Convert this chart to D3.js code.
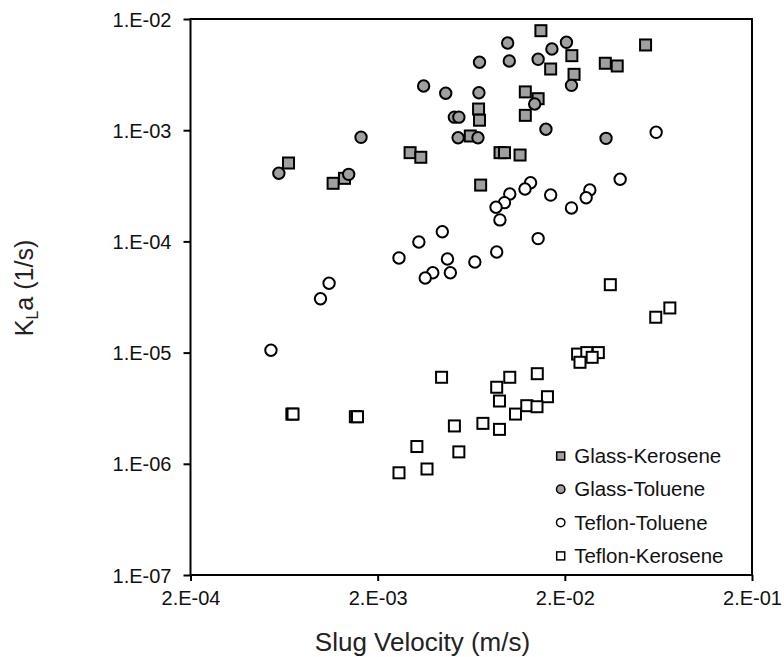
<!DOCTYPE html>
<html>
<head>
<meta charset="utf-8">
<script src="https://cdn.jsdelivr.net/npm/d3@7"></script>
<style>
  body { margin: 0; background: #fff; }
  svg { font-family: "Liberation Sans", Arial, sans-serif; }
</style>
</head>
<body>
<div id="chart"></div>
<script>
// series: [slug velocity (m/s), KLa (1/s)]
var glassKerosene = [
  [0.0149, 7.85e-3], [0.054, 5.84e-3], [0.0218, 4.68e-3], [0.0329, 4.0e-3],
  [0.0381, 3.78e-3], [0.0168, 3.55e-3], [0.0224, 3.18e-3], [0.0123, 2.21e-3],
  [0.0144, 1.92e-3], [0.00692, 1.55e-3], [0.0070, 1.23e-3], [0.0123, 1.36e-3],
  [0.00625, 8.87e-4], [0.00298, 6.28e-4], [0.0034, 5.71e-4], [0.00901, 6.28e-4],
  [0.00952, 6.28e-4], [0.01153, 5.98e-4], [0.000668, 5.07e-4], [0.001156, 3.33e-4],
  [0.00133, 3.69e-4], [0.0071, 3.21e-4]
];
var glassToluene = [
  [0.0099, 6.08e-3], [0.0204, 6.17e-3], [0.01706, 5.37e-3], [0.0070, 4.08e-3],
  [0.0101, 4.19e-3], [0.0144, 4.34e-3], [0.0217, 2.53e-3], [0.00352, 2.50e-3],
  [0.00462, 2.15e-3], [0.00695, 2.17e-3], [0.0138, 1.72e-3], [0.00514, 1.31e-3],
  [0.00543, 1.31e-3], [0.01585, 1.02e-3], [0.00163, 8.63e-4], [0.00538, 8.56e-4],
  [0.00687, 8.56e-4], [0.0332, 8.45e-4], [0.000593, 4.1e-4], [0.0014, 4.01e-4]
];
var teflonToluene = [
  [0.0615, 9.57e-4], [0.0395, 3.62e-4], [0.01312, 3.37e-4], [0.01225, 2.96e-4],
  [0.0272, 2.90e-4], [0.026, 2.47e-4], [0.01016, 2.67e-4], [0.00952, 2.23e-4],
  [0.00858, 2.03e-4], [0.0168, 2.61e-4], [0.0217, 2.0e-4], [0.0090, 1.56e-4],
  [0.00443, 1.22e-4], [0.00332, 9.88e-5], [0.0026, 7.1e-5], [0.00472, 6.95e-5],
  [0.00661, 6.53e-5], [0.00865, 8.03e-5], [0.0144, 1.06e-4], [0.00394, 5.23e-5],
  [0.00359, 4.69e-5], [0.00489, 5.23e-5], [0.0011, 4.2e-5], [0.00099, 3.05e-5],
  [0.000538, 1.05e-5]
];
var teflonKerosene = [
  [0.035, 4.08e-5], [0.0728, 2.52e-5], [0.0612, 2.08e-5], [0.0234, 9.7e-6],
  [0.0262, 1.0e-5], [0.0302, 1.0e-5], [0.028, 9.07e-6], [0.0241, 8.18e-6],
  [0.00439, 6.0e-6], [0.01016, 6.0e-6], [0.01425, 6.46e-6], [0.00865, 4.88e-6],
  [0.01615, 4.01e-6], [0.00895, 3.67e-6], [0.01252, 3.33e-6], [0.0142, 3.26e-6],
  [0.0109, 2.8e-6], [0.000696, 2.8e-6], [0.000706, 2.8e-6], [0.00152, 2.65e-6],
  [0.00156, 2.65e-6], [0.00514, 2.19e-6], [0.0073, 2.31e-6], [0.00895, 2.04e-6],
  [0.00324, 1.43e-6], [0.00543, 1.28e-6], [0.0026, 8.3e-7], [0.00367, 8.98e-7]
];
var seriesNames = ["Glass-Kerosene", "Glass-Toluene", "Teflon-Toluene", "Teflon-Kerosene"];
var xTicks = [2e-4, 2e-3, 2e-2, 2e-1];
var yTicks = [1e-7, 1e-6, 1e-5, 1e-4, 1e-3, 1e-2];

var series = [
  {name: seriesNames[0], data: glassKerosene, shape: "square", fill: "#a0a0a0"},
  {name: seriesNames[1], data: glassToluene, shape: "circle", fill: "#a0a0a0"},
  {name: seriesNames[2], data: teflonToluene, shape: "circle", fill: "#fff"},
  {name: seriesNames[3], data: teflonKerosene, shape: "square", fill: "#fff"}
];

var W = 784, H = 657;
var margin = {top: 19, right: 32, bottom: 82, left: 190.5},
  width = W - margin.left - margin.right,
  height = H - margin.top - margin.bottom;

var svg = d3.select("#chart")
  .append("svg")
    .attr("width", W)
    .attr("height", H)
  .append("g")
    .attr("transform", "translate(" + margin.left + "," + margin.top + ")");

var x = d3.scaleLog().domain([2e-4, 2e-1]).range([0, width]);
var y = d3.scaleLog().domain([1e-7, 1e-2]).range([height, 0]);

// "2.E-03" style labels
function sciFmt(d) {
  var e = Math.floor(Math.log10(d) + 1e-9);
  var m = Math.round(d / Math.pow(10, e));
  return m + ".E" + (e < 0 ? "-" : "+") + String(Math.abs(e)).padStart(2, "0");
}

// frame
svg.append("rect")
  .attr("width", width)
  .attr("height", height)
  .attr("fill", "none")
  .attr("stroke", "#000")
  .attr("stroke-width", 2);

var xAxis = svg.append("g")
  .attr("transform", "translate(0," + height + ")")
  .call(d3.axisBottom(x).tickValues(xTicks).tickFormat(sciFmt).tickSize(6).tickPadding(10));
var yAxis = svg.append("g")
  .call(d3.axisLeft(y).tickValues(yTicks).tickFormat(sciFmt).tickSize(7).tickPadding(12));

[xAxis, yAxis].forEach(function(a) {
  a.select(".domain").remove();
  a.selectAll("line").attr("stroke", "#000").attr("stroke-width", 2);
  a.selectAll("text")
    .attr("fill", "#111")
    .style("font-size", "20px")
    .style("font-family", "'Liberation Sans', Arial, sans-serif");
});
yAxis.selectAll("text").attr("dy", "0.35em");
xAxis.selectAll("text").attr("dy", "0.71em");

// points
series.forEach(function(s) {
  var g = svg.append("g");
  if (s.shape === "square") {
    g.selectAll("rect").data(s.data).enter().append("rect")
      .attr("x", function(d) { return x(d[0]) - 5.5; })
      .attr("y", function(d) { return y(d[1]) - 5.5; })
      .attr("width", 11)
      .attr("height", 11)
      .attr("fill", s.fill)
      .attr("stroke", "#000")
      .attr("stroke-width", 2);
  } else {
    g.selectAll("circle").data(s.data).enter().append("circle")
      .attr("cx", function(d) { return x(d[0]); })
      .attr("cy", function(d) { return y(d[1]); })
      .attr("r", 5.7)
      .attr("fill", s.fill)
      .attr("stroke", "#000")
      .attr("stroke-width", 2);
  }
});

// legend
var legend = svg.append("g")
  .attr("transform", "translate(" + (560.7 - margin.left) + "," + (456 - margin.top) + ")");
series.forEach(function(s, i) {
  var row = legend.append("g").attr("transform", "translate(0," + (i * 33.3) + ")");
  if (s.shape === "square") {
    row.append("rect").attr("x", -4).attr("y", -4).attr("width", 8).attr("height", 8)
      .attr("fill", s.fill).attr("stroke", "#000").attr("stroke-width", 1.5);
  } else {
    row.append("circle").attr("r", 4.2)
      .attr("fill", s.fill).attr("stroke", "#000").attr("stroke-width", 1.5);
  }
  row.append("text")
    .attr("x", 13.5)
    .attr("dy", "0.35em")
    .style("font-size", "20.5px")
    .attr("fill", "#111")
    .text(s.name);
});

// axis titles
svg.append("text")
  .attr("x", 422.5 - margin.left)
  .attr("y", 651 - margin.top)
  .attr("text-anchor", "middle")
  .style("font-size", "26px")
  .attr("fill", "#222")
  .text("Slug Velocity (m/s)");

var yTitle = svg.append("text")
  .attr("transform", "translate(" + (33 - margin.left) + "," + (288 - margin.top) + ") rotate(-90)")
  .attr("text-anchor", "middle")
  .style("font-size", "25px")
  .attr("fill", "#222");
yTitle.append("tspan").text("K");
yTitle.append("tspan").attr("dy", "0.3em").style("font-size", "16px").text("L");
yTitle.append("tspan").attr("dy", "-0.2em").text("a (1/s)");
</script>
</body>
</html>
